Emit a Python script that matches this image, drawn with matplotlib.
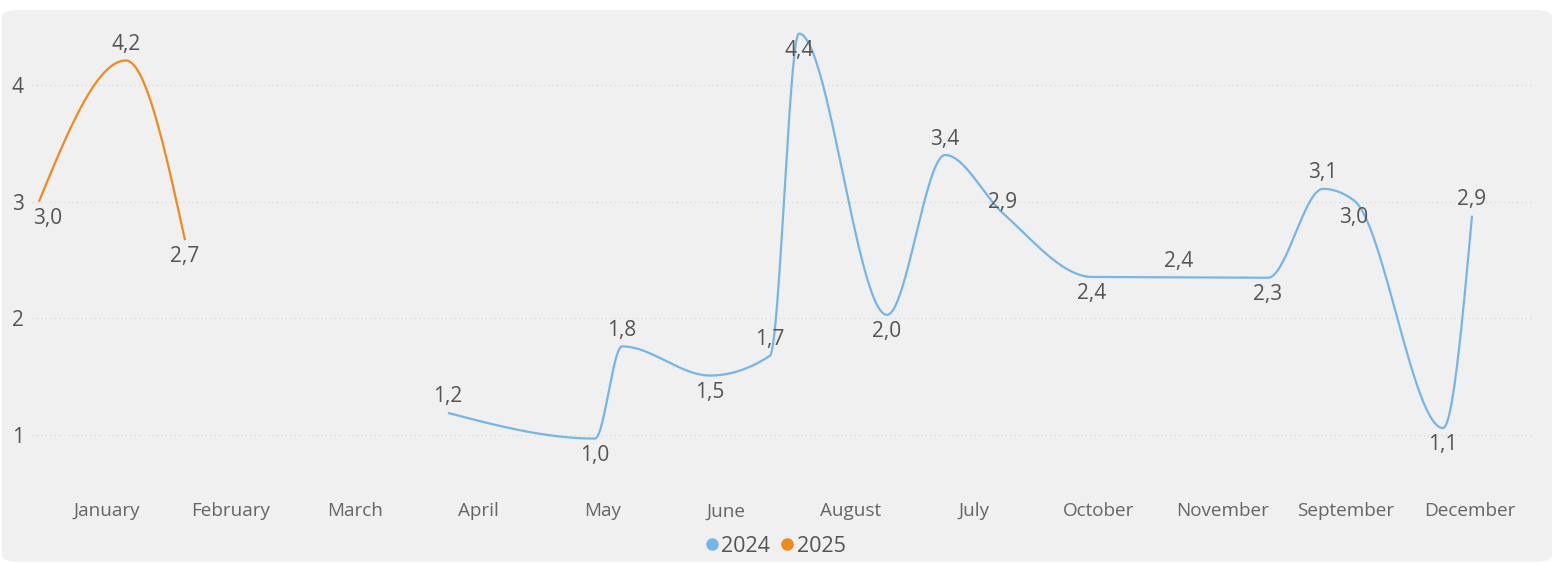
import numpy as np
import matplotlib
matplotlib.use("Agg")
import matplotlib.pyplot as plt
from matplotlib.patches import FancyBboxPatch
from matplotlib.lines import Line2D

# ---------------- data ----------------
categories = ["January", "February", "March", "April", "May", "June",
              "August", "July", "October", "November", "September", "December"]

x_2025 = [-0.549, 0.153, 0.630]
y_2025 = [3.00, 4.21, 2.67]
pos_2025 = ["b", "a", "b"]

x_2024 = [2.752, 3.939, 4.157, 4.867, 5.351, 5.585, 6.295, 6.764, 7.232,
          7.950, 8.652, 9.370, 9.814, 10.065, 10.783, 11.017]
y_2024 = [1.19, 0.97, 1.76, 1.51, 1.68, 4.44, 2.03, 3.40, 2.90,
          2.355, 2.352, 2.348, 3.11, 3.01, 1.06, 2.88]
pos_2024 = ["a", "b", "a", "b", "a", "b", "b", "a", "c",
            "b", "a", "b", "a", "b", "b", "a"]

series_names = ["2024", "2025"]
yticks = [1, 2, 3, 4]

# ---------------- style ----------------
BLUE = "#76B6E6"
ORANGE = "#F08A1E"
TXT = "#555453"
BG = "#F0F0F0"
FONT = ["Open Sans", "DejaVu Sans"]
plt.rcParams["font.family"] = FONT


def monotone_curve(x, y, n=60):
    """d3 curveMonotoneX style interpolation (line rendering)."""
    x = np.asarray(x, float)
    y = np.asarray(y, float)
    m = len(x)
    t = np.zeros(m)
    for i in range(1, m - 1):
        h0 = x[i] - x[i - 1]
        h1 = x[i + 1] - x[i]
        s0 = (y[i] - y[i - 1]) / h0
        s1 = (y[i + 1] - y[i]) / h1
        p = (s0 * h1 + s1 * h0) / (h0 + h1)
        t[i] = (np.sign(s0) + np.sign(s1)) * min(abs(s0), abs(s1), 0.5 * abs(p))
    if m > 2:
        h = x[1] - x[0]
        t[0] = (3 * (y[1] - y[0]) / h - t[1]) / 2
        h = x[-1] - x[-2]
        t[-1] = (3 * (y[-1] - y[-2]) / h - t[-2]) / 2
    else:
        t[:] = (y[1] - y[0]) / (x[1] - x[0])
    xs, ys = [], []
    for i in range(m - 1):
        dx = x[i + 1] - x[i]
        u = np.linspace(0, 1, n)
        p0 = (x[i], y[i])
        p1 = (x[i] + dx / 3, y[i] + dx / 3 * t[i])
        p2 = (x[i + 1] - dx / 3, y[i + 1] - dx / 3 * t[i + 1])
        p3 = (x[i + 1], y[i + 1])
        bx = ((1 - u) ** 3 * p0[0] + 3 * (1 - u) ** 2 * u * p1[0]
              + 3 * (1 - u) * u ** 2 * p2[0] + u ** 3 * p3[0])
        by = ((1 - u) ** 3 * p0[1] + 3 * (1 - u) ** 2 * u * p1[1]
              + 3 * (1 - u) * u ** 2 * p2[1] + u ** 3 * p3[1])
        xs.append(bx)
        ys.append(by)
    return np.concatenate(xs), np.concatenate(ys)


W, H = 1554, 564
fig = plt.figure(figsize=(W / 100, H / 100), dpi=100, facecolor="white")

# rounded background card
card = FancyBboxPatch((2 / W, 2 / H), 1550 / W, 552 / H,
                      boxstyle="round,pad=0,rounding_size=0.012",
                      transform=fig.transFigure, facecolor=BG,
                      edgecolor="none", zorder=-10)
fig.patches.append(card)

ax_left, ax_right, ax_top, ax_bot = 32, 1532, 25, 485
ax = fig.add_axes([ax_left / W, 1 - ax_bot / H, (ax_right - ax_left) / W,
                   (ax_bot - ax_top) / H])
ax.set_zorder(5)
ax.set_facecolor("none")
for s in ax.spines.values():
    s.set_visible(False)

ax.set_xlim(-0.605, 11.501)
ax.set_ylim(0.572, 4.514)

ax.set_yticks(yticks)
ax.set_yticklabels([str(v) for v in yticks])
ax.tick_params(axis="y", length=0, pad=6, labelsize=15, labelcolor=TXT)
ax.set_xticks(range(len(categories)))
ax.set_xticklabels(categories)
ax.tick_params(axis="x", length=0, pad=12.5, labelsize=13.6, labelcolor="#666565")
ax.grid(axis="y", linestyle=(0, (1, 3)), color="#D4D4D4", linewidth=0.8)
ax.set_axisbelow(True)

for xs, ys, col in [(x_2024, y_2024, BLUE), (x_2025, y_2025, ORANGE)]:
    cx, cy = monotone_curve(xs, ys)
    ax.plot(cx, cy, color=col, linewidth=1.6, solid_capstyle="butt", zorder=3)

offsets = {"a": 11.5, "b": -12.0, "c": 7.5}
for xs, ys, ps in [(x_2024, y_2024, pos_2024), (x_2025, y_2025, pos_2025)]:
    for xv, yv, p in zip(xs, ys, ps):
        label = f"{yv:.1f}".replace(".", ",")
        dx = 6 if (xv == xs[0] and p == "b" and xs is x_2025) else 0
        ax.annotate(label, (xv, yv), xytext=(dx, offsets[p]),
                    textcoords="offset points", ha="center", va="center",
                    fontsize=15, color=TXT, zorder=4)

handles = [Line2D([], [], linestyle="none", marker="o", markersize=8,
                  color=c) for c in (BLUE, ORANGE)]
fig.legend(handles, series_names, loc="center",
           bbox_to_anchor=(775 / W, 1 - 546 / H), ncol=2, frameon=False,
           fontsize=15.5, labelcolor=TXT, handletextpad=0.1,
           columnspacing=0.45, handlelength=0.7, borderpad=0)

fig.savefig("out.png", dpi=100, facecolor="white")
